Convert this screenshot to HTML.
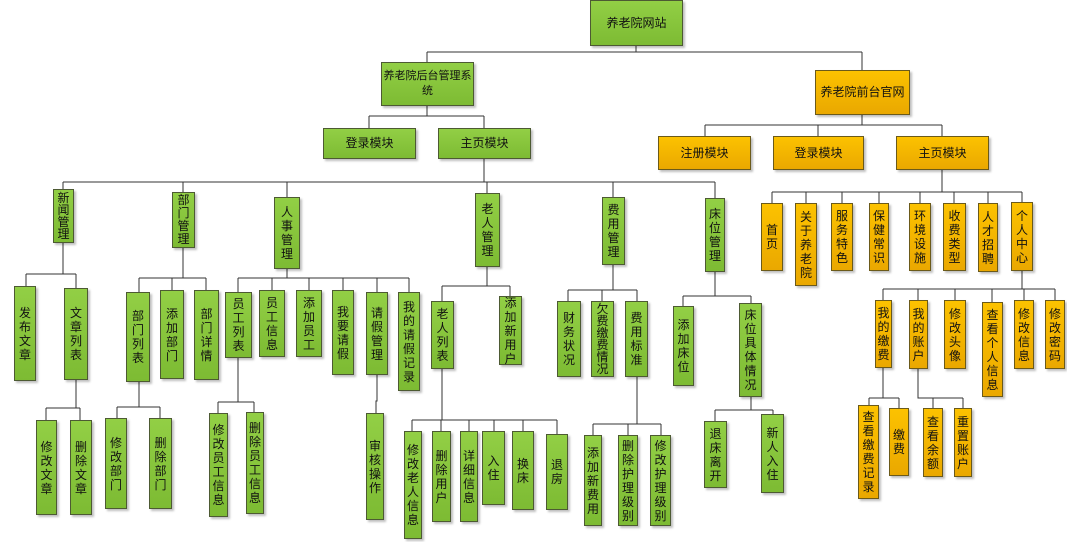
<!DOCTYPE html>
<html><head><meta charset="utf-8"><style>
body{margin:0;width:1067px;height:542px;background:#fff;position:relative;overflow:hidden;font-family:"Liberation Sans","Noto Sans CJK SC",sans-serif;}
.b{position:absolute;box-sizing:border-box;border:1px solid #4d5a33;display:flex;align-items:center;justify-content:center;font-size:12px;color:#111;box-shadow:2px 2px 2px rgba(0,0,0,0.25);text-align:center;line-height:15px;white-space:nowrap;overflow:visible;}
.g{background:linear-gradient(#92cf45,#7dbb33);}
.o{background:linear-gradient(#fcc200,#eaa800);border-color:#6b5a1a;}
.v span{display:block;width:12px;font-size:12px;line-height:14px;white-space:normal;word-break:break-all;text-align:center;}
svg{position:absolute;left:0;top:0;}
</style></head><body>
<svg width="1067" height="542"><g stroke="#333" stroke-width="1" fill="none">
<path d="M636 46V52M427 52H862M427 52V62M862 52V70"/>
<path d="M427 106V116M369 116H484M369 116V128M484 116V128M484 159V182"/>
<path d="M63 182H715M63 182V189M183 182V192M287 182V197M487 182V193M613 182V197M715 182V198"/>
<path d="M63 243V274M26 274H76M26 274V286M76 274V288M76 380V408M46 408H80M46 408V420M80 408V420"/>
<path d="M183 248V278M139 278H206M139 278V292M172 278V290M206 278V290M139 382V407M117 407H160M117 407V418M160 407V418"/>
<path d="M287 269V278M238 278H409M238 278V292M272 278V290M309 278V290M343 278V290M377 278V292M409 278V292M238 358V402M218 402H254M218 402V413M254 402V412M377 375V401H376V413"/>
<path d="M487 267V286M442 286H510M442 286V301M510 286V296M442 369V420M412 420H557M412 420V431M441 420V431M469 420V431M494 420V431M523 420V431M557 420V434"/>
<path d="M613 265V290M568 290H637M568 290V301M602 290V301M637 290V301M637 377V424M593 424H661M593 424V435M628 424V435M661 424V435"/>
<path d="M715 272V296M683 296H751M683 296V306M751 296V303M751 397V410M715 410H773M715 410V421M773 410V414"/>
<path d="M862 115V125M705 125H942M705 125V136M818 125V136M942 125V136M942 170V192M772 192H1022M772 192V203M806 192V203M842 192V203M879 192V203M920 192V203M954 192V203M988 192V203M1022 192V202"/>
<path d="M1022 271V289M883 289H1055M883 289V300M918 289V300M955 289V300M992 289V302M1024 289V300M1055 289V300"/>
<path d="M883 368V398M869 398H899M869 398V405M899 398V408M918 369V398H963M933 398V408M963 398V408"/>
</g></svg>

<div class="b g" style="left:590px;top:0px;width:93px;height:46px">养老院网站</div>
<div class="b g" style="left:381px;top:62px;width:93px;height:44px;font-size:11px">养老院后台管理系<br>统</div>
<div class="b o" style="left:815px;top:70px;width:95px;height:45px">养老院前台官网</div>
<div class="b g" style="left:323px;top:128px;width:93px;height:31px">登录模块</div>
<div class="b g" style="left:438px;top:128px;width:93px;height:31px">主页模块</div>
<div class="b o" style="left:658px;top:136px;width:93px;height:34px">注册模块</div>
<div class="b o" style="left:773px;top:136px;width:91px;height:34px">登录模块</div>
<div class="b o" style="left:896px;top:136px;width:93px;height:34px">主页模块</div>

<div class="b g v" style="left:53px;top:189px;width:21px;height:54px"><span style="line-height:12px">新闻管理</span></div>
<div class="b g v" style="left:172px;top:192px;width:23px;height:56px"><span style="line-height:13px">部门管理</span></div>
<div class="b g v" style="left:274px;top:197px;width:26px;height:72px"><span>人事管理</span></div>
<div class="b g v" style="left:475px;top:193px;width:25px;height:74px"><span>老人管理</span></div>
<div class="b g v" style="left:602px;top:197px;width:23px;height:68px"><span>费用管理</span></div>
<div class="b g v" style="left:705px;top:198px;width:20px;height:74px"><span>床位管理</span></div>

<div class="b g v" style="left:14px;top:286px;width:22px;height:95px"><span>发布文章</span></div>
<div class="b g v" style="left:64px;top:288px;width:24px;height:92px"><span>文章列表</span></div>
<div class="b g v" style="left:36px;top:420px;width:21px;height:95px"><span>修改文章</span></div>
<div class="b g v" style="left:70px;top:420px;width:22px;height:95px"><span>删除文章</span></div>

<div class="b g v" style="left:126px;top:292px;width:24px;height:90px"><span>部门列表</span></div>
<div class="b g v" style="left:160px;top:290px;width:24px;height:89px"><span>添加部门</span></div>
<div class="b g v" style="left:194px;top:290px;width:25px;height:90px"><span>部门详情</span></div>
<div class="b g v" style="left:105px;top:418px;width:22px;height:91px"><span>修改部门</span></div>
<div class="b g v" style="left:149px;top:418px;width:23px;height:91px"><span>删除部门</span></div>

<div class="b g v" style="left:225px;top:292px;width:27px;height:66px"><span>员工列表</span></div>
<div class="b g v" style="left:259px;top:290px;width:26px;height:67px"><span>员工信息</span></div>
<div class="b g v" style="left:296px;top:290px;width:26px;height:67px"><span>添加员工</span></div>
<div class="b g v" style="left:332px;top:290px;width:22px;height:85px"><span>我要请假</span></div>
<div class="b g v" style="left:366px;top:292px;width:22px;height:83px"><span>请假管理</span></div>
<div class="b g v" style="left:398px;top:292px;width:22px;height:99px"><span>我的请假记录</span></div>
<div class="b g v" style="left:209px;top:413px;width:19px;height:104px"><span>修改员工信息</span></div>
<div class="b g v" style="left:246px;top:412px;width:18px;height:102px"><span>删除员工信息</span></div>
<div class="b g v" style="left:366px;top:413px;width:18px;height:107px"><span>审核操作</span></div>

<div class="b g v" style="left:431px;top:301px;width:23px;height:68px"><span>老人列表</span></div>
<div class="b g v" style="left:499px;top:296px;width:23px;height:69px"><span>添加新用户</span></div>
<div class="b g v" style="left:404px;top:431px;width:18px;height:108px"><span>修改老人信息</span></div>
<div class="b g v" style="left:432px;top:431px;width:19px;height:91px"><span>删除用户</span></div>
<div class="b g v" style="left:460px;top:431px;width:18px;height:91px"><span>详细信息</span></div>
<div class="b g v" style="left:482px;top:431px;width:23px;height:74px"><span>入住</span></div>
<div class="b g v" style="left:512px;top:431px;width:22px;height:79px"><span>换床</span></div>
<div class="b g v" style="left:546px;top:434px;width:22px;height:76px"><span>退房</span></div>

<div class="b g v" style="left:557px;top:301px;width:24px;height:76px"><span>财务状况</span></div>
<div class="b g v" style="left:591px;top:301px;width:23px;height:76px"><span style="line-height:12px">欠费缴费情况</span></div>
<div class="b g v" style="left:625px;top:301px;width:23px;height:76px"><span>费用标准</span></div>
<div class="b g v" style="left:584px;top:435px;width:18px;height:91px"><span>添加新费用</span></div>
<div class="b g v" style="left:618px;top:435px;width:20px;height:91px"><span>删除护理级别</span></div>
<div class="b g v" style="left:650px;top:435px;width:21px;height:91px"><span>修改护理级别</span></div>

<div class="b g v" style="left:673px;top:306px;width:21px;height:80px"><span>添加床位</span></div>
<div class="b g v" style="left:739px;top:303px;width:23px;height:94px"><span>床位具体情况</span></div>
<div class="b g v" style="left:704px;top:421px;width:23px;height:67px"><span>退床离开</span></div>
<div class="b g v" style="left:761px;top:414px;width:23px;height:79px"><span>新人入住</span></div>

<div class="b o v" style="left:761px;top:203px;width:22px;height:68px"><span>首页</span></div>
<div class="b o v" style="left:795px;top:203px;width:22px;height:83px"><span>关于养老院</span></div>
<div class="b o v" style="left:831px;top:203px;width:22px;height:68px"><span>服务特色</span></div>
<div class="b o v" style="left:869px;top:203px;width:20px;height:68px"><span>保健常识</span></div>
<div class="b o v" style="left:909px;top:203px;width:22px;height:68px"><span>环境设施</span></div>
<div class="b o v" style="left:943px;top:203px;width:23px;height:68px"><span>收费类型</span></div>
<div class="b o v" style="left:978px;top:203px;width:20px;height:69px"><span>人才招聘</span></div>
<div class="b o v" style="left:1011px;top:202px;width:22px;height:69px"><span>个人中心</span></div>

<div class="b o v" style="left:875px;top:300px;width:17px;height:68px"><span>我的缴费</span></div>
<div class="b o v" style="left:909px;top:300px;width:19px;height:69px"><span>我的账户</span></div>
<div class="b o v" style="left:944px;top:300px;width:22px;height:69px"><span>修改头像</span></div>
<div class="b o v" style="left:982px;top:302px;width:21px;height:95px"><span>查看个人信息</span></div>
<div class="b o v" style="left:1014px;top:300px;width:20px;height:69px"><span>修改信息</span></div>
<div class="b o v" style="left:1045px;top:300px;width:20px;height:69px"><span>修改密码</span></div>
<div class="b o v" style="left:858px;top:405px;width:21px;height:94px"><span>查看缴费记录</span></div>
<div class="b o v" style="left:889px;top:408px;width:20px;height:68px"><span>缴费</span></div>
<div class="b o v" style="left:923px;top:408px;width:20px;height:69px"><span>查看余额</span></div>
<div class="b o v" style="left:954px;top:408px;width:18px;height:69px"><span>重置账户</span></div>
</body></html>
